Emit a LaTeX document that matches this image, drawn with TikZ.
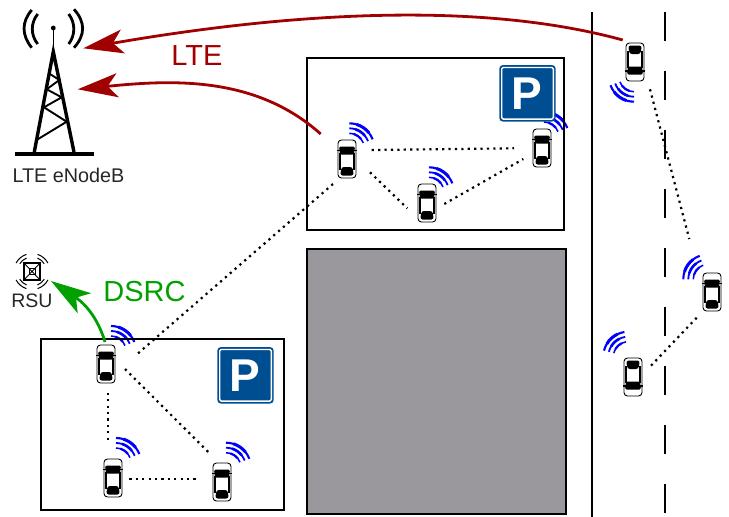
\documentclass[tikz,border=0pt]{standalone}
\usepackage{fontspec}
\setmainfont{Liberation Sans}
\usetikzlibrary{arrows.meta}
\definecolor{lteRed}{HTML}{A00000}
\definecolor{dsrcGreen}{HTML}{00A000}
\definecolor{signBlue}{HTML}{004E92}
\definecolor{bldGrey}{HTML}{9A989C}
\tikzset{
  lotbox/.style={draw=black,line width=2.2pt},
  link/.style={draw=black,line width=2.2pt,dash pattern=on 2.2pt off 4.2pt},
  ltearrow/.style={draw=lteRed,line width=2.8pt,-{Stealth[length=40pt,width=24pt,inset=10pt,fill=lteRed]}},
  dsrcarrow/.style={draw=dsrcGreen,line width=2.8pt,-{Stealth[length=40pt,width=24pt,inset=10pt,fill=dsrcGreen]}},
  car/.pic={
    \draw[fill=white,line width=0.9pt,rounded corners=3.5pt] (-9,-19) rectangle (9,19);
    \fill[black] (-10,-9.5) rectangle (10,-8);
    \fill[black,rounded corners=1.5pt] (-8,-12.5) -- (8,-12.5) -- (7,-4.5) -- (-7,-4.5) -- cycle;
    \fill[black,rounded corners=2.5pt] (-5.5,8) -- (5.5,8) -- (6.8,16.5) -- (-6.8,16.5) -- cycle;
    \draw[line width=1.3pt] (-7,-6) -- (-7,11) (7,-6) -- (7,11);
  },
}
\newcommand{\wavearc}[6]{%
  \draw[blue,line width=#6*0.7pt] ([shift={(#3:#5pt)}]#1,#2) arc[start angle=#3,end angle=#4,radius=#5pt];
  \pgfmathsetmacro{\wha}{(#3*3+#4)/4}\pgfmathsetmacro{\whb}{(#3+#4*3)/4}
  \draw[blue,line width=#6*1pt] ([shift={(\wha:#5pt)}]#1,#2) arc[start angle=\wha,end angle=\whb,radius=#5pt];
}
\newcommand{\waves}[4]{%
  \wavearc{#1}{#2}{#3}{#4}{25}{3.0}
  \wavearc{#1}{#2}{#3}{#4}{20}{2.6}
  \wavearc{#1}{#2}{#3}{#4}{15}{2.2}
}
\newcommand{\rsuarc}[2]{%
  \draw[line width=1pt] ([shift={(#1:18pt)}]rsu.center) arc[start angle=#1,end angle=#2,radius=18pt];
  \draw[line width=1pt] ([shift={(#1+4:14.5pt)}]rsu.center) arc[start angle=#1+4,end angle=#2-4,radius=14.5pt];
}
\newcommand{\psign}[3]{%
  \node[minimum size=56.4pt,inner sep=0pt,fill=signBlue,rounded corners=3.5pt] (#3) at (#1,#2) {};
  \draw[white,line width=1.4pt,rounded corners=1.5pt] ([shift={(2.6pt,2.6pt)}]#3.south west) rectangle ([shift={(-2.6pt,-2.6pt)}]#3.north east);
  \node[white,font=\bfseries\fontsize{46}{46}\selectfont,inner sep=0pt] (#3t) at (#1-0.6,#2) {P};
}
\begin{document}
\begin{tikzpicture}[x=1pt,y=-1pt]
\useasboundingbox (0,0) rectangle (729,517);
% road
\draw[line width=2.4pt] (591.7,12) -- (591.7,517);
\draw[line width=2pt,dash pattern=on 29pt off 30pt] (665.3,12) -- (665.3,513);
% building
\node[draw=black,line width=2.2pt,fill=bldGrey,minimum width=259pt,minimum height=265pt,inner sep=0pt] (building) at (436.5,381.5) {};
% waves
\waves{349.3}{148.3}{90}{21}
\waves{429}{192.3}{90}{21}
\waves{544}{137}{90}{21}
\waves{111}{351}{90}{21}
\waves{116}{463}{90}{21}
\waves{226}{467.7}{90}{21}
\waves{634}{76.7}{270}{200}
\waves{708.3}{279.3}{180}{110}
\waves{628.3}{356.7}{166}{99}
% lots
\node[lotbox,minimum width=257pt,minimum height=172pt,inner sep=0pt] (lotA) at (435.5,144) {};
\node[lotbox,minimum width=243pt,minimum height=171pt,inner sep=0pt] (lotB) at (162.5,424.5) {};
% signs
\psign{527.5}{93.3}{signA}
\psign{245.5}{375.3}{signB}
% cars
\pic at (347,159) {car};
\pic at (427,203) {car};
\pic at (542,148) {car};
\pic at (106,364) {car};
\pic at (113,478) {car};
\pic at (222,482) {car};
\pic[rotate=180] at (635,62) {car};
\pic at (712,292) {car};
\pic[rotate=180] at (633,377) {car};
% link ends
\coordinate (ac1) at (371.7,150); \coordinate (ac2) at (514,148.3);
\coordinate (ab1) at (370,172.3); \coordinate (ab2) at (407.3,208.3);
\coordinate (bc1) at (444.3,204); \coordinate (bc2) at (523.3,159);
\coordinate (ad1) at (333,184); \coordinate (ad2) at (135,356);
\coordinate (de1) at (108.3,392.7); \coordinate (de2) at (108.3,443);
\coordinate (df1) at (125,369); \coordinate (df2) at (209,452.7);
\coordinate (ef1) at (129.3,479); \coordinate (ef2) at (197.7,479);
\coordinate (gh1) at (650,89.3); \coordinate (gh2) at (689.3,239);
\coordinate (hi1) at (696.7,317.7); \coordinate (hi2) at (650.7,366);
\foreach \a/\b in {ac1/ac2,ab1/ab2,bc1/bc2,ad1/ad2,de1/de2,df1/df2,ef1/ef2,gh1/gh2,hi1/hi2}
  \draw[link] (\a) -- (\b);
% tower
\coordinate (ttop) at (53.3,51.7);
\coordinate (tl) at (34.3,152);
\coordinate (tr) at (74,152);
\draw[line width=3.4pt,line join=miter] (tl) -- (ttop) -- (tr);
\draw[line width=1.9pt] (50,74) -- (59.3,80) -- (46.7,89.3) -- (61.7,97.3) -- (44,107.3) -- (66.7,121.7) -- (37.7,139.3);
\draw[line width=4.8pt] (15,154) -- (94,154);
\draw[line width=1.5pt] (ttop) -- (53.3,28);
\fill (53.3,28) circle[radius=2.4pt];
\draw[line width=2.8pt] (31.7,10) .. controls (21.5,22) and (21.5,35) .. (31.7,47.7);
\draw[line width=2.8pt] (37.7,14) .. controls (30.5,23) and (30.5,35) .. (37.7,44);
\draw[line width=2.8pt] (74,9.3) .. controls (85.5,22) and (85.5,35) .. (74,47.7);
\draw[line width=2.8pt] (68.7,14) .. controls (75.5,23) and (75.5,35) .. (68.7,44);
\node[font=\fontsize{19.8}{19.8}\selectfont,text=black!85,inner sep=0pt] (enb) at (68.5,175) {LTE eNodeB};
% RSU
\node[draw=black,line width=1.7pt,minimum width=16pt,minimum height=17pt,inner sep=0pt] (rsu) at (32,271.5) {};
\node[draw=black,line width=0.9pt,minimum size=6pt,inner sep=0pt] (rsui) at (32,271.5) {};
\draw[line width=0.9pt] (rsu.north west) -- (rsu.south east) (rsu.north east) -- (rsu.south west);
\rsuarc{108}{152}
\rsuarc{28}{72}
\rsuarc{208}{252}
\rsuarc{288}{332}
\node[font=\fontsize{19.5}{19.5}\selectfont,text=black!85,inner sep=0pt] (rsul) at (32,301) {RSU};
% arrows
\coordinate (g0) at (622.7,40); \coordinate (g1) at (83.3,48.3);
\coordinate (a0) at (320.7,134); \coordinate (a1) at (77.7,89.3);
\coordinate (d0) at (105,342); \coordinate (d1) at (51,281);
\draw[ltearrow] (g0) .. controls (470,-2) and (270,16) .. (g1);
\draw[ltearrow] (a0) .. controls (255,75) and (170,80) .. (a1);
\draw[dsrcarrow] (d0) .. controls (100,325) and (90,307) .. (d1);
\node[font=\fontsize{29}{29}\selectfont,text=lteRed,inner sep=0pt] (ltel) at (197,56) {LTE};
\node[font=\fontsize{29}{29}\selectfont,text=dsrcGreen,inner sep=0pt] (dsrcl) at (144.5,292) {DSRC};
\end{tikzpicture}
\end{document}
